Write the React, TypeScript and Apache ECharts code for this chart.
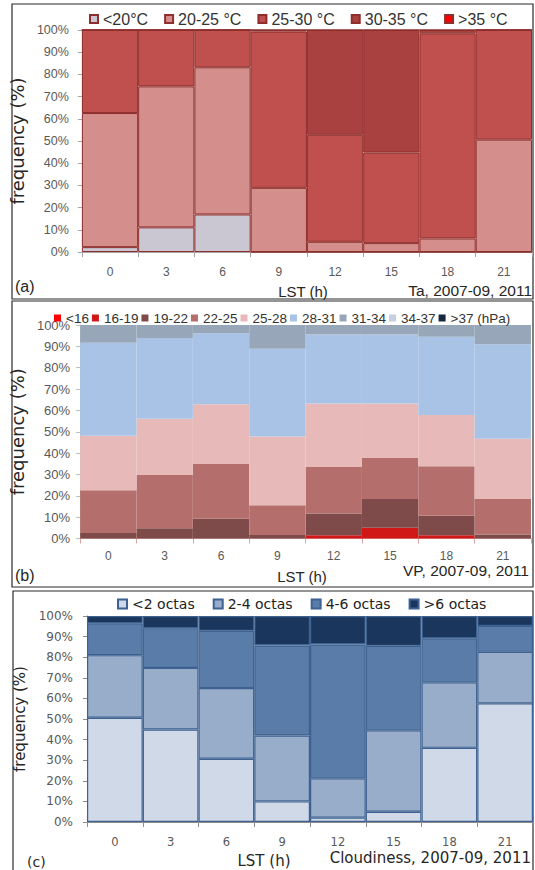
import React, { useEffect, useRef } from "react";
import * as echarts from "echarts";

const hours = ["0", "3", "6", "9", "12", "15", "18", "21"];

// Panel (a): air temperature classes (% frequency)
const taNames = ["<20°C", "20-25 °C", "25-30 °C", "30-35 °C", ">35 °C"];
const taLt20 = [2.2, 11.1, 16.9, 0, 0, 0, 0, 0];
const ta2025 = [60.4, 63.5, 66.3, 28.9, 4.6, 4.0, 6.1, 50.6];
const ta2530 = [37.4, 25.4, 16.8, 70.4, 48.2, 40.8, 92.4, 49.4];
const ta3035 = [0, 0, 0, 0.7, 47.2, 55.2, 1.5, 0];
const taGt35 = [0, 0, 0, 0, 0, 0, 0, 0];
const taColors = ["#cac6d2", "#d48e8c", "#c0504d", "#a8413f", "#ff0000"];

// Panel (b): vapour pressure classes (% frequency)
const vpNames = ["<16", "16-19", "19-22", "22-25", "25-28", "28-31", "31-34", "34-37", ">37 (hPa)"];
const vpLt16 = [0, 0, 0, 0, 0, 0, 0, 0];
const vp1619 = [0, 0, 0, 0, 1.5, 5.0, 1.5, 0];
const vp1922 = [2.6, 4.8, 9.2, 1.6, 10.2, 13.5, 9.2, 1.9];
const vp2225 = [20.0, 25.0, 25.7, 14.0, 21.8, 19.2, 23.1, 16.6];
const vp2528 = [25.5, 26.3, 28.0, 32.2, 29.7, 25.5, 24.1, 28.2];
const vp2831 = [43.6, 37.8, 33.2, 41.1, 32.4, 32.4, 36.6, 44.3];
const vp3134 = [8.3, 6.1, 3.9, 11.1, 4.4, 4.4, 5.5, 9.0];
const vp3437 = [0, 0, 0, 0, 0, 0, 0, 0];
const vpGt37 = [0, 0, 0, 0, 0, 0, 0, 0];
const vpColors = ["#ff0000", "#d01818", "#7e4a4a", "#b46f6d", "#e7bab9", "#a9c3e7", "#97a7b9", "#c5cfdf", "#17273d"];

// Panel (c): cloudiness classes (% frequency)
const clNames = ["<2 octas", "2-4 octas", "4-6 octas", ">6 octas"];
const clLt2 = [50.6, 44.9, 30.7, 10.0, 2.1, 5.0, 36.0, 57.6];
const cl24 = [30.4, 29.9, 34.3, 32.0, 19.1, 39.5, 31.8, 25.0];
const cl46 = [15.5, 19.3, 27.8, 43.7, 65.0, 41.0, 21.4, 12.6];
const clGt6 = [3.5, 5.9, 7.2, 14.3, 13.8, 14.5, 10.8, 4.8];
const clColors = ["#d0d9e7", "#98adc9", "#5a7ca8", "#1b365d"];

const ARIAL = "Liberation Sans, Arial, sans-serif";
const DEJAVU = "DejaVu Sans, Verdana, sans-serif";

export default function App() {
  const ref = useRef<HTMLDivElement>(null);

  useEffect(() => {
    if (!ref.current) return;
    const chart = echarts.init(ref.current, undefined, { renderer: "svg" });

    const mk = (name: string, data: number[], color: string, idx: number, stack: string, border?: string, bw = 1) => ({
      name,
      type: "bar",
      stack,
      xAxisIndex: idx,
      yAxisIndex: idx,
      data,
      barCategoryGap: "0%",
      itemStyle: border ? { color, borderColor: border, borderWidth: bw } : { color },
      emphasis: { disabled: true },
    });

    const series: any[] = [];
    [taLt20, ta2025, ta2530, ta3035, taGt35].forEach((d, i) =>
      series.push(mk(taNames[i], d, taColors[i], 0, "a", "#8e2f2d", 1))
    );
    [vpLt16, vp1619, vp1922, vp2225, vp2528, vp2831, vp3134, vp3437, vpGt37].forEach((d, i) =>
      series.push(mk(vpNames[i], d, vpColors[i], 1, "b"))
    );
    [clLt2, cl24, cl46, clGt6].forEach((d, i) =>
      series.push(mk(clNames[i], d, clColors[i], 2, "c", "#3d6190", 1.2))
    );

    const yAxis = (idx: number, font: string, size: number, margin: number, nameSize: number, nameGap: number, lineColor: string) => ({
      type: "value",
      gridIndex: idx,
      min: 0,
      max: 100,
      interval: 10,
      name: "frequency (%)",
      nameLocation: "middle",
      nameGap,
      nameTextStyle: { fontFamily: DEJAVU, fontSize: nameSize, color: "#262626" },
      axisLine: { show: true, lineStyle: { color: lineColor, width: 1 } },
      axisTick: { show: true, length: 4, lineStyle: { color: lineColor } },
      splitLine: { show: false },
      axisLabel: { formatter: "{value}%", fontFamily: font, fontSize: size, color: "#595959", margin },
    });

    const xAxis = (idx: number, font: string, size: number, margin: number, lineColor: string) => ({
      type: "category",
      gridIndex: idx,
      data: hours,
      axisLine: { show: true, lineStyle: { color: lineColor, width: 1 } },
      axisTick: { show: true, length: 5, lineStyle: { color: lineColor } },
      axisLabel: { fontFamily: font, fontSize: size, color: "#595959", margin },
      splitLine: { show: false },
    });

    const txt = (text: string, x: number, y: number, align: string, font: string, size: number) => ({
      type: "text",
      silent: true,
      style: { text, x, y, textAlign: align, textVerticalAlign: "middle", fontFamily: font, fontSize: size, fill: "#262626" },
    });

    const frame = (x: number, y: number, w: number, h: number) => ({
      type: "rect",
      silent: true,
      shape: { x, y, width: w, height: h },
      style: { fill: "none", stroke: "#2b2b2b", lineWidth: 1.2 },
    });

    chart.setOption({
      animation: false,
      backgroundColor: "#ffffff",
      grid: [
        { left: 75, right: 3, top: 30, height: 222 },
        { left: 72, right: 4, top: 325, height: 213.5 },
        { left: 87, right: 2, top: 616, height: 206 },
      ],
      xAxis: [
        xAxis(0, ARIAL, 12, 14, "#a6a6a6"),
        xAxis(1, ARIAL, 12, 11, "#d9a3a3"),
        xAxis(2, DEJAVU, 11.5, 14, "#8c8c8c"),
      ],
      yAxis: [
        yAxis(0, ARIAL, 12.5, 13, 18, 42, "#a6a6a6"),
        yAxis(1, ARIAL, 13, 10, 18, 39, "#bfbfbf"),
        yAxis(2, DEJAVU, 12, 14, 15, 54, "#8c8c8c"),
      ],
      legend: [
        {
          data: taNames,
          left: 84,
          top: 6,
          width: 520,
          height: 18,
          itemWidth: 8,
          itemHeight: 8,
          itemGap: 16,
          icon: "rect",
          textStyle: { fontFamily: ARIAL, fontSize: 16, color: "#333333" },
          selectedMode: false,
        },
        {
          data: vpNames,
          left: 49,
          top: 306,
          width: 520,
          height: 18,
          itemWidth: 7,
          itemHeight: 7,
          itemGap: 3,
          icon: "rect",
          textStyle: { fontFamily: ARIAL, fontSize: 13.5, color: "#333333" },
          selectedMode: false,
        },
        {
          data: clNames,
          left: 112,
          top: 592,
          width: 520,
          height: 18,
          itemWidth: 9,
          itemHeight: 9,
          itemGap: 18,
          icon: "rect",
          textStyle: { fontFamily: DEJAVU, fontSize: 14, color: "#222222" },
          selectedMode: false,
        },
      ],
      series,
      graphic: [
        frame(12, 4, 521, 295),
        frame(12, 301, 521, 286),
        frame(13, 591, 520, 290),
        txt("(a)", 15, 286, "left", ARIAL, 16),
        txt("LST (h)", 303, 291, "center", ARIAL, 15),
        txt("Ta, 2007-09, 2011", 532, 290, "right", ARIAL, 15.5),
        txt("(b)", 15, 575, "left", ARIAL, 16),
        txt("LST (h)", 302, 576, "center", ARIAL, 15),
        txt("VP, 2007-09, 2011", 529, 570, "right", ARIAL, 15.5),
        txt("(c)", 27, 862, "left", DEJAVU, 14),
        txt("LST (h)", 264, 861, "center", DEJAVU, 15),
        txt("Cloudiness, 2007-09, 2011", 531, 858, "right", DEJAVU, 15),
      ],
    });

    return () => chart.dispose();
  }, []);

  return (
    <div
      ref={ref}
      style={{ position: "absolute", left: 0, top: 0, width: 535, height: 870, background: "#fff" }}
    />
  );
}
